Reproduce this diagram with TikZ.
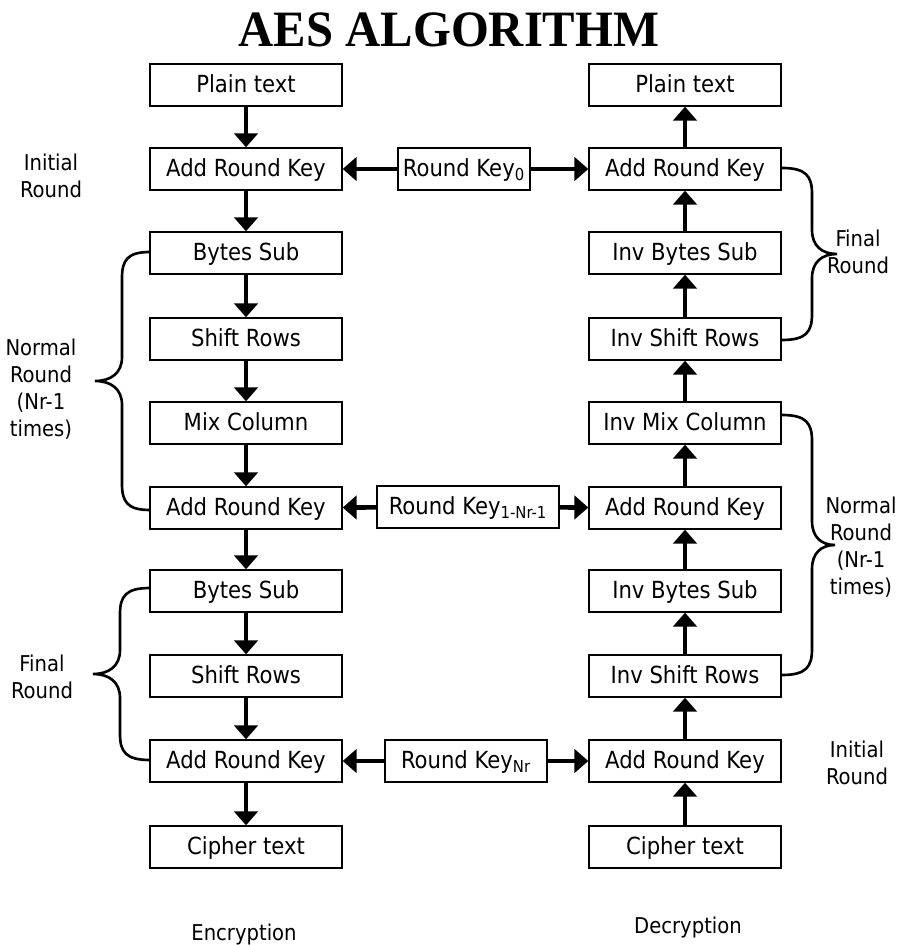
\documentclass[tikz,border=0pt]{standalone}
\usepackage{fontspec}
\setmainfont{DejaVu Sans Condensed}
\newfontfamily\titlefont{Liberation Serif}
\usetikzlibrary{arrows.meta}

% curly bracket: ends x, top y, bottom y, spine x, tip x
\newcommand{\sidebrace}[5]{%
  \draw[brc] (#1,#2) .. controls ({#1+0.8*(#4-#1)},#2) and (#4,{#2+8}) .. (#4,{#2+26})
    -- (#4,{(#2+#3)/2-24}) .. controls (#4,{(#2+#3)/2-8}) and ({#4+0.4*(#5-#4)},{(#2+#3)/2}) .. (#5,{(#2+#3)/2})
    .. controls ({#4+0.4*(#5-#4)},{(#2+#3)/2}) and (#4,{(#2+#3)/2+8}) .. (#4,{(#2+#3)/2+24})
    -- (#4,{#3-26}) .. controls (#4,{#3-8}) and ({#1+0.8*(#4-#1)},#3) .. (#1,#3);}

\begin{document}
\begin{tikzpicture}[x=0.02cm, y=-0.02cm,
  box/.style={draw, line width=0.8pt, minimum width=3.84cm, minimum height=0.84cm,
              inner sep=0pt, text height=0.88em, text depth=0pt,
              font=\fontsize{13.4}{15}\selectfont},
  arr/.style={-{Triangle[length=0.28cm,width=0.47cm]}, line width=2.6pt},
  brc/.style={line width=1.5pt},
  lbl/.style={align=center, inner sep=0pt, font=\fontsize{12.4}{15.4}\selectfont}
]
\useasboundingbox (0,0) rectangle (898,945);

\node[inner sep=0pt, font=\titlefont\bfseries\fontsize{29}{30}\selectfont] (title) at (449,30)
  {\scalebox{0.955}[1]{AES ALGORITHM}};

% encryption column
\node[box] (ept) at (246,85) {Plain text};
\node[box] (eark0) at (246,169) {Add Round Key};
\node[box] (ebs1) at (246,253) {Bytes Sub};
\node[box] (esr1) at (246,339) {Shift Rows};
\node[box] (emc) at (246,423) {Mix Column};
\node[box] (eark1) at (246,508) {Add Round Key};
\node[box] (ebs2) at (246,591) {Bytes Sub};
\node[box] (esr2) at (246,676) {Shift Rows};
\node[box] (eark2) at (246,761) {Add Round Key};
\node[box] (ect) at (246,847) {Cipher text};
\foreach \a/\b in {ept/eark0, eark0/ebs1, ebs1/esr1, esr1/emc, emc/eark1,
                   eark1/ebs2, ebs2/esr2, esr2/eark2, eark2/ect}
  \draw[arr] (\a) -- (\b);

% decryption column
\node[box] (dpt) at (685,85) {Plain text};
\node[box] (dark0) at (685,169) {Add Round Key};
\node[box] (dibs1) at (685,253) {Inv Bytes Sub};
\node[box] (disr1) at (685,339) {Inv Shift Rows};
\node[box] (dimc) at (685,423) {Inv Mix Column};
\node[box] (dark1) at (685,508) {Add Round Key};
\node[box] (dibs2) at (685,591) {Inv Bytes Sub};
\node[box] (disr2) at (685,676) {Inv Shift Rows};
\node[box] (dark2) at (685,761) {Add Round Key};
\node[box] (dct) at (685,847) {Cipher text};
\foreach \a/\b in {dct/dark2, dark2/disr2, disr2/dibs2, dibs2/dark1, dark1/dimc,
                   dimc/disr1, disr1/dibs1, dibs1/dark0, dark0/dpt}
  \draw[arr] (\a) -- (\b);

% round keys
\node[box, minimum width=2.64cm] (rk0) at (464,169) {Round Key\textsubscript{0}};
\node[box, minimum width=3.64cm] (rk1) at (468,507) {Round Key\textsubscript{1-Nr-1}};
\node[box, minimum width=3.24cm] (rknr) at (466,761) {Round Key\textsubscript{Nr}};
\foreach \k/\n in {rk0/0, rk1/1, rknr/2} {
  \draw[arr] (\k) -- (eark\n);
  \draw[arr] (\k) -- (dark\n);
}

% braces
\sidebrace{150}{252}{510}{122}{95}
\sidebrace{150}{588}{760}{120}{93}
\sidebrace{782}{168}{340}{812}{837}
\sidebrace{782}{415}{675}{812}{835}

% labels
\node[lbl] (linit) at (51,176) {Initial\\Round};
\node[lbl] (lnorm) at (41,389) {Normal\\Round\\(Nr-1\\times)};
\node[lbl] (lfin) at (42,677) {Final\\Round};
\node[lbl] (rfin) at (858,252) {Final\\Round};
\node[lbl] (rnorm) at (861,547) {Normal\\Round\\(Nr-1\\times)};
\node[lbl] (rinit) at (857,763) {Initial\\Round};
\node[lbl] (enc) at (244,934) {Encryption};
\node[lbl] (dec) at (688,927) {Decryption};
\end{tikzpicture}
\end{document}
